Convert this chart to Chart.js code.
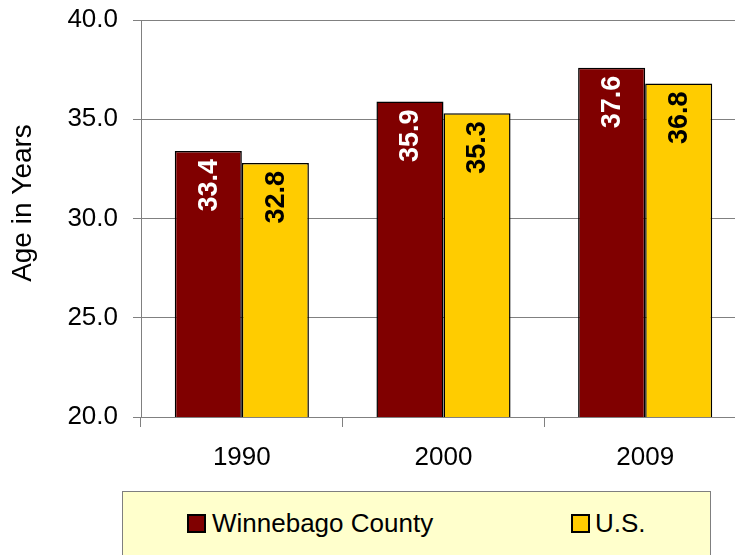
<!DOCTYPE html>
<html>
<head>
<meta charset="utf-8">
<script src="https://cdn.jsdelivr.net/npm/chart.js@4.4.1/dist/chart.umd.min.js"></script>
<style>
  html, body { margin: 0; padding: 0; background: #fff; }
  #wrap { position: relative; width: 735px; height: 555px; overflow: hidden; font-family: "Liberation Sans", Arial, sans-serif; }
  #chart { position: absolute; left: 0; top: 0; }
  #legendBox { position: absolute; left: 122px; top: 491px; width: 589px; height: 80px; background: #FFFFCC; border: 1px solid #7f7f7f; box-sizing: border-box; }
  .sw { position: absolute; width: 19px; height: 19px; border: 2px solid #000; box-sizing: border-box; }
  .lt { position: absolute; font-size: 26px; line-height: 26px; color: #000; white-space: nowrap; }
</style>
</head>
<body>
<div id="wrap">
  <canvas id="chart" width="746" height="555"></canvas>
  <div id="legendBox"></div>
  <div id="legendItems"></div>
</div>
<script>
// Values
var years = ['1990', '2000', '2009'];
var winnebago = [33.4, 35.9, 37.6];
var us = [32.8, 35.3, 36.8];
var seriesNames = ['Winnebago County', 'U.S.'];
var seriesColors = ['#800000', '#FFCC00'];
var labelColors = ['#ffffff', '#000000'];
var yTicks = [20, 25, 30, 35, 40];

var FONT = '"Liberation Sans", Arial, sans-serif';

// value labels drawn sideways inside the top of each bar
var barLabels = {
    id: 'barLabels',
    afterDatasetsDraw: function(chart) {
        var ctx = chart.ctx;
        chart.data.datasets.forEach(function(ds, i) {
            var meta = chart.getDatasetMeta(i);
            meta.data.forEach(function(bar, j) {
                ctx.save();
                ctx.translate(bar.x, bar.y + 8);
                ctx.rotate(-Math.PI / 2);
                ctx.font = 'bold 27px ' + FONT;
                ctx.fillStyle = labelColors[i];
                ctx.textAlign = 'right';
                ctx.textBaseline = 'middle';
                ctx.fillText(ds.data[j].toFixed(1), 0, 1);
                ctx.restore();
            });
        });
    }
};

// y axis title, placed like the original (not centred on the axis)
var yTitle = {
    id: 'yTitle',
    afterDraw: function(chart) {
        var ctx = chart.ctx;
        ctx.save();
        ctx.translate(23, 203);
        ctx.rotate(-Math.PI / 2);
        ctx.font = '28px ' + FONT;
        ctx.fillStyle = '#000';
        ctx.textAlign = 'center';
        ctx.textBaseline = 'middle';
        ctx.fillText('Age in Years', 0, 0);
        ctx.restore();
    }
};

var ctx = document.getElementById('chart').getContext('2d');
var chart = new Chart(ctx, {
    type: 'bar',
    data: {
        labels: years,
        datasets: [{
            label: seriesNames[0],
            data: winnebago,
            backgroundColor: seriesColors[0],
            borderColor: '#000',
            borderWidth: 1.5,
            borderSkipped: false
        }, {
            label: seriesNames[1],
            data: us,
            backgroundColor: seriesColors[1],
            borderColor: '#000',
            borderWidth: 1.5,
            borderSkipped: false
        }]
    },
    options: {
        responsive: false,
        animation: false,
        datasets: {
            bar: { categoryPercentage: 0.665, barPercentage: 1.0 }
        },
        layout: { padding: { left: 0, right: 0, top: 20, bottom: 0 } },
        plugins: {
            legend: { display: false },
            tooltip: { enabled: false }
        },
        scales: {
            x: {
                offset: true,
                grid: { display: true, drawOnChartArea: false, drawTicks: true, tickLength: 10, color: '#808080', offset: true },
                border: { display: true, color: '#808080', width: 1 },
                ticks: { color: '#000', font: { family: FONT, size: 26 }, padding: 15 },
                afterFit: function(scale) {
                    scale.height = 138;
                    scale.paddingLeft = 0;
                    scale.paddingRight = 0;
                }
            },
            y: {
                min: yTicks[0],
                max: yTicks[yTicks.length - 1],
                afterBuildTicks: function(scale) {
                    scale.ticks = yTicks.map(function(v) { return { value: v }; });
                },
                grid: { color: '#808080', tickLength: 8, drawTicks: true },
                border: { display: true, color: '#808080', width: 1 },
                ticks: {
                    color: '#000',
                    font: { family: FONT, size: 26 },
                    padding: 15,
                    callback: function(v) { return Number(v).toFixed(1); }
                },
                afterFit: function(scale) {
                    scale.width = 141;
                    scale.paddingTop = 0;
                    scale.paddingBottom = 0;
                }
            }
        }
    },
    plugins: [barLabels, yTitle]
});

// legend in its own box, like the original
var legendItems = document.getElementById('legendItems');
var swatchX = [187, 571];
var textX = [212, 595];
seriesNames.forEach(function(name, i) {
    var sw = document.createElement('div');
    sw.className = 'sw';
    sw.style.left = swatchX[i] + 'px';
    sw.style.top = '514px';
    sw.style.background = seriesColors[i];
    legendItems.appendChild(sw);
    var t = document.createElement('div');
    t.className = 'lt';
    t.style.left = textX[i] + 'px';
    t.style.top = '510px';
    t.textContent = name;
    legendItems.appendChild(t);
});
</script>
</body>
</html>
